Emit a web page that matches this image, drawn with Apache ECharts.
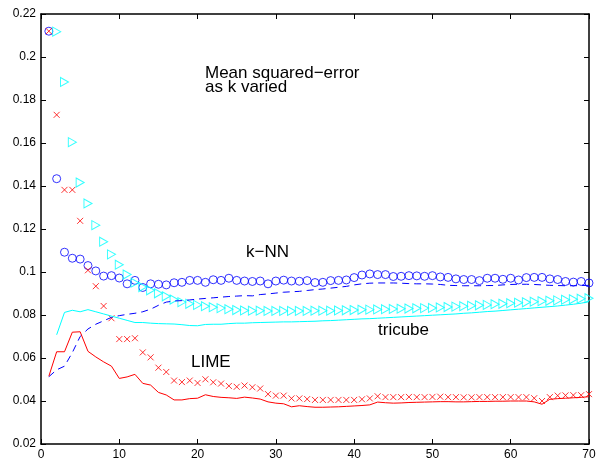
<!DOCTYPE html>
<html>
<head>
<meta charset="utf-8">
<script src="https://cdn.jsdelivr.net/npm/echarts@6/dist/echarts.min.js"></script>
<style>
  html, body { margin: 0; padding: 0; background: #fff; }
  #chart { width: 606px; height: 461px; }
</style>
</head>
<body>
<div id="chart"></div>
<script>
// mean squared error vs k, k = 1..70
var knnMarks = [
  0.2120, 0.1434, 0.1092, 0.1064, 0.1060, 0.1030, 0.1005, 0.0981, 0.0983, 0.0972,
  0.0945, 0.0961, 0.0928, 0.0945, 0.0943, 0.0940, 0.0950, 0.0952, 0.0961, 0.0961,
  0.0952, 0.0964, 0.0961, 0.0971, 0.0961, 0.0958, 0.0956, 0.0958, 0.0945, 0.0958,
  0.0962, 0.0958, 0.0957, 0.0960, 0.0951, 0.0952, 0.0960, 0.0961, 0.0963, 0.0974,
  0.0986, 0.0991, 0.0988, 0.0988, 0.0979, 0.0980, 0.0983, 0.0982, 0.0980, 0.0983,
  0.0977, 0.0975, 0.0968, 0.0965, 0.0965, 0.0960, 0.0971, 0.0971, 0.0966, 0.0971,
  0.0963, 0.0974, 0.0975, 0.0975, 0.0968, 0.0965, 0.0956, 0.0953, 0.0956, 0.0949
];
var knnLine = [
  0.0513, 0.0545, 0.0562, 0.0625, 0.0700, 0.0735, 0.0757, 0.0773, 0.0789, 0.0797,
  0.0803, 0.0808, 0.0815, 0.0827, 0.0845, 0.0860, 0.0865, 0.0867, 0.0870, 0.0874,
  0.0877, 0.0880, 0.0883, 0.0886, 0.0888, 0.0890, 0.0889, 0.0895, 0.0898, 0.0902,
  0.0906, 0.0908, 0.0910, 0.0914, 0.0918, 0.0921, 0.0925, 0.0929, 0.0933, 0.0940,
  0.0945, 0.0948, 0.0949, 0.0949, 0.0949, 0.0948, 0.0946, 0.0945, 0.0945, 0.0944,
  0.0942, 0.0938, 0.0937, 0.0936, 0.0936, 0.0936, 0.0937, 0.0937, 0.0940, 0.0942,
  0.0943, 0.0943, 0.0942, 0.0940, 0.0938, 0.0937, 0.0936, 0.0936, 0.0937, 0.0938
];
// tricube starts at k = 2
var tricubeMarks = [
  0.2118, 0.1884, 0.1604, 0.1416, 0.1319, 0.1218, 0.1141, 0.1082, 0.1034,
  0.0988, 0.0950, 0.0930, 0.0915, 0.0901, 0.0887, 0.0872, 0.0860, 0.0852, 0.0847,
  0.0841, 0.0836, 0.0832, 0.0827, 0.0823, 0.0821, 0.0820, 0.0820, 0.0819, 0.0819,
  0.0819, 0.0819, 0.0819, 0.0819, 0.0820, 0.0820, 0.0820, 0.0821, 0.0822, 0.0823,
  0.0824, 0.0825, 0.0826, 0.0827, 0.0828, 0.0829, 0.0830, 0.0831, 0.0832, 0.0833,
  0.0835, 0.0837, 0.0839, 0.0841, 0.0843, 0.0845, 0.0847, 0.0850, 0.0852, 0.0855,
  0.0857, 0.0859, 0.0862, 0.0864, 0.0866, 0.0868, 0.0871, 0.0873, 0.0876, 0.0878
];
var tricubeLine = [
  0.0708, 0.0812, 0.0822, 0.0815, 0.0825, 0.0815, 0.0805, 0.0795, 0.0785,
  0.0775, 0.0765, 0.0765, 0.0762, 0.0760, 0.0759, 0.0758, 0.0755, 0.0751, 0.0750,
  0.0756, 0.0757, 0.0757, 0.0760, 0.0762, 0.0762, 0.0764, 0.0765, 0.0766, 0.0767,
  0.0768, 0.0768, 0.0769, 0.0770, 0.0771, 0.0773, 0.0774, 0.0776, 0.0778, 0.0780,
  0.0782, 0.0783, 0.0785, 0.0787, 0.0789, 0.0791, 0.0793, 0.0795, 0.0797, 0.0799,
  0.0801, 0.0803, 0.0805, 0.0808, 0.0810, 0.0813, 0.0816, 0.0818, 0.0821, 0.0824,
  0.0827, 0.0830, 0.0833, 0.0836, 0.0839, 0.0842, 0.0846, 0.0850, 0.0855, 0.0862
];
var limeMarks = [
  0.2120, 0.1731, 0.1382, 0.1382, 0.1238, 0.1008, 0.0934, 0.0842, 0.0785, 0.0688,
  0.0688, 0.0692, 0.0626, 0.0603, 0.0555, 0.0535, 0.0495, 0.0488, 0.0495, 0.0484,
  0.0501, 0.0487, 0.0481, 0.0470, 0.0466, 0.0472, 0.0464, 0.0458, 0.0432, 0.0425,
  0.0425, 0.0412, 0.0412, 0.0409, 0.0405, 0.0405, 0.0405, 0.0405, 0.0405, 0.0405,
  0.0408, 0.0412, 0.0422, 0.0418, 0.0418, 0.0418, 0.0419, 0.0418, 0.0418, 0.0419,
  0.0420, 0.0418, 0.0418, 0.0417, 0.0417, 0.0418, 0.0418, 0.0418, 0.0418, 0.0418,
  0.0418, 0.0418, 0.0413, 0.0400, 0.0418, 0.0425, 0.0426, 0.0427, 0.0427, 0.0432
];
var limeLine = [
  0.0515, 0.0629, 0.0629, 0.0720, 0.0722, 0.0631, 0.0605, 0.0582, 0.0562, 0.0505,
  0.0512, 0.0524, 0.0482, 0.0474, 0.0440, 0.0428, 0.0405, 0.0405, 0.0411, 0.0413,
  0.0429, 0.0421, 0.0417, 0.0415, 0.0412, 0.0418, 0.0414, 0.0409, 0.0396, 0.0390,
  0.0387, 0.0373, 0.0378, 0.0374, 0.0371, 0.0371, 0.0372, 0.0373, 0.0375, 0.0377,
  0.0379, 0.0382, 0.0395, 0.0392, 0.0390, 0.0391, 0.0393, 0.0394, 0.0395, 0.0396,
  0.0397, 0.0397, 0.0396, 0.0396, 0.0397, 0.0398, 0.0398, 0.0399, 0.0399, 0.0400,
  0.0400, 0.0400, 0.0396, 0.0385, 0.0408, 0.0411, 0.0413, 0.0415, 0.0417, 0.0420
];

var BLUE = '#0000ff', CYAN = '#00ffff', RED = '#ff0000';
var FONT = 'Liberation Sans';

function pts(arr, k0) {
  return arr.map(function (v, i) { return [k0 + i, v]; });
}

function note(text, x, y) {
  return {
    type: 'text', x: x, y: y, z: 100,
    style: { text: text, fontSize: 17, fontFamily: FONT, fill: '#000', verticalAlign: 'middle' }
  };
}

var myChart = echarts.init(document.getElementById('chart'));

var tickStyle = { show: true, inside: true, length: 5, lineStyle: { color: '#000', width: 1 } };
var lineStyleAxis = { show: true, onZero: false, lineStyle: { color: '#000', width: 1.5 } };

var option = {
  animation: false,
  backgroundColor: '#fff',
  grid: { left: 41, right: 17, top: 14, bottom: 15 },
  xAxis: [
    {
      type: 'value', min: 0, max: 70, interval: 10, position: 'bottom',
      axisLine: lineStyleAxis, axisTick: tickStyle, splitLine: { show: false },
      axisLabel: { color: '#000', fontSize: 12, fontFamily: FONT, margin: 5 }
    },
    {
      type: 'value', min: 0, max: 70, interval: 10, position: 'top',
      axisLine: lineStyleAxis, axisTick: tickStyle, splitLine: { show: false },
      axisLabel: { show: false }
    }
  ],
  yAxis: [
    {
      type: 'value', min: 0.02, max: 0.22, interval: 0.02, position: 'left',
      axisLine: lineStyleAxis, axisTick: tickStyle, splitLine: { show: false },
      axisLabel: { color: '#000', fontSize: 12, fontFamily: FONT, margin: 5 }
    },
    {
      type: 'value', min: 0.02, max: 0.22, interval: 0.02, position: 'right',
      axisLine: lineStyleAxis, axisTick: tickStyle, splitLine: { show: false },
      axisLabel: { show: false }
    }
  ],
  series: [
    {
      type: 'line', data: pts(knnLine, 1), showSymbol: false,
      lineStyle: { color: BLUE, width: 1, type: [7, 5] }
    },
    {
      type: 'line', data: pts(tricubeLine, 2), showSymbol: false,
      lineStyle: { color: CYAN, width: 1 }
    },
    {
      type: 'line', data: pts(limeLine, 1), showSymbol: false,
      lineStyle: { color: RED, width: 1 }
    },
    {
      type: 'scatter', data: pts(knnMarks, 1), symbol: 'circle', symbolSize: 8,
      itemStyle: { color: 'transparent', borderColor: BLUE, borderWidth: 1 }
    },
    {
      type: 'scatter', data: pts(tricubeMarks, 2),
      symbol: 'path://M0,0L10,5.5L0,11Z', symbolSize: [8, 9],
      itemStyle: { color: 'transparent', borderColor: CYAN, borderWidth: 1 }
    },
    {
      type: 'scatter', data: pts(limeMarks, 1),
      symbol: 'path://M0,0L10,10M10,0L0,10', symbolSize: 6,
      itemStyle: { color: 'transparent', borderColor: RED, borderWidth: 1 }
    }
  ],
  graphic: [
    note('Mean squared\u2212error', 205, 73),
    note('as k varied', 205, 87),
    note('k\u2212NN', 246, 252),
    note('tricube', 378, 330),
    note('LIME', 191, 362.5)
  ]
};

myChart.setOption(option);
</script>
</body>
</html>
